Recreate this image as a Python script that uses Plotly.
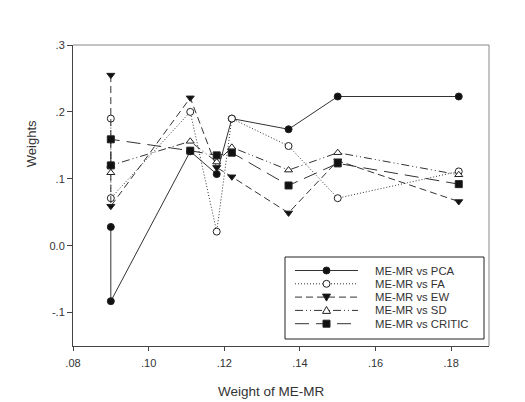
import plotly.graph_objects as go

# x positions (weight of ME-MR); the first value appears twice
x_vals = [0.09, 0.09, 0.111, 0.118, 0.122, 0.137, 0.15, 0.182]

pca = [0.028, -0.083, 0.141, 0.107, 0.190, 0.174, 0.223, 0.223]
fa = [0.190, 0.071, 0.200, 0.021, 0.190, 0.149, 0.071, 0.111]
ew = [0.255, 0.059, 0.221, 0.117, 0.103, 0.049, 0.127, 0.066]
sd = [0.109, 0.120, 0.156, 0.125, 0.147, 0.113, 0.139, 0.106]
critic = [0.120, 0.159, 0.142, 0.135, 0.139, 0.090, 0.123, 0.092]

series_names = ["ME-MR vs PCA", "ME-MR vs FA", "ME-MR vs EW", "ME-MR vs SD", "ME-MR vs CRITIC"]

y_tickvals = [-0.1, 0.0, 0.1, 0.2, 0.3]
y_ticktext = ["-.1", "0.0", ".1", ".2", ".3"]
x_tickvals = [0.08, 0.10, 0.12, 0.14, 0.16, 0.18]
x_ticktext = [".08", ".10", ".12", ".14", ".16", ".18"]

LC = "#333333"
styles = [
    dict(dash="solid", symbol="circle", fill="#111111"),
    dict(dash="1px,2px", symbol="circle", fill="white"),
    dict(dash="7px,4px", symbol="triangle-down", fill="#111111"),
    dict(dash="8px,3px,1px,3px,1px,3px", symbol="triangle-up", fill="white"),
    dict(dash="14px,7px", symbol="square", fill="#111111"),
]

fig = go.Figure()
for name, ys, st in zip(series_names, [pca, fa, ew, sd, critic], styles):
    fig.add_trace(go.Scatter(
        x=x_vals, y=ys, name=name, mode="lines+markers", showlegend=False,
        line=dict(color=LC, width=1, dash=st["dash"]),
        marker=dict(symbol=st["symbol"], size=7, color=st["fill"],
                    line=dict(color="#222222", width=1)),
    ))

font = dict(family="Liberation Sans, Arial, sans-serif", color="#333333")

# page body has an 8px margin, so the figure is sized/placed to compensate
W, H = 517, 394
ML, MT, MR, MB = 65, 37, 36, 56
PW, PH = W - ML - MR, H - MT - MB


def px(xs):  # screen px -> paper x
    return (xs - 8 - ML) / PW


def py(ys):  # screen px -> paper y
    return (H - MB - (ys - 8)) / PH


shapes = [
    dict(type="line", xref="paper", yref="paper", x0=0, x1=1, y0=1, y1=1,
         line=dict(color="#888888", width=1)),
    dict(type="line", xref="paper", yref="paper", x0=1, x1=1, y0=0, y1=1,
         line=dict(color="#888888", width=1)),
    # legend box
    dict(type="rect", xref="paper", yref="paper", x0=px(285), x1=px(484),
         y0=py(339), y1=py(257), line=dict(color="#222222", width=1),
         fillcolor="white", layer="above"),
]
annotations = []

tri_down = "M -4,3 L 4,3 L 0,-4 Z"
tri_up = "M -4,-3 L 4,-3 L 0,4 Z"
for i, (name, st) in enumerate(zip(series_names, styles)):
    yy = py(270.5 + i * 13.3)
    shapes.append(dict(type="line", xref="paper", yref="paper", x0=px(295), x1=px(358),
                       y0=yy, y1=yy, line=dict(color=LC, width=1, dash=st["dash"]),
                       layer="above"))
    mk = dict(xref="paper", yref="paper", xsizemode="pixel", ysizemode="pixel",
              xanchor=px(326.5), yanchor=yy, fillcolor=st["fill"],
              line=dict(color="#222222", width=1), layer="above")
    sym = st["symbol"]
    if sym == "circle":
        mk.update(type="circle", x0=-3.5, x1=3.5, y0=-3.5, y1=3.5)
    elif sym == "square":
        mk.update(type="rect", x0=-3.5, x1=3.5, y0=-3.5, y1=3.5)
    elif sym == "triangle-down":
        mk.update(type="path", path=tri_down)
    else:
        mk.update(type="path", path=tri_up)
    shapes.append(mk)
    annotations.append(dict(text=name, xref="paper", yref="paper", x=px(373), y=yy,
                            xanchor="left", yanchor="middle", showarrow=False,
                            font=dict(size=11.3, **font)))

annotations += [
    dict(text="Weights", xref="paper", yref="paper", x=px(31.7), y=py(143.5),
         showarrow=False, textangle=-90, font=dict(size=13, **font),
         xanchor="center", yanchor="middle"),
    dict(text="Weight of ME-MR", xref="paper", yref="paper", x=px(271.7), y=py(391.7),
         showarrow=False, font=dict(size=13.5, **font),
         xanchor="center", yanchor="middle"),
]

fig.update_layout(
    width=W, height=H,
    margin=dict(l=ML, r=MR, t=MT, b=MB, autoexpand=False),
    paper_bgcolor="white", plot_bgcolor="white",
    font=dict(size=11, **font),
    showlegend=False,
    xaxis=dict(
        range=[0.08, 0.19], tickvals=x_tickvals, ticktext=x_ticktext,
        showgrid=False, zeroline=False, showline=True, linecolor="#444444", linewidth=1,
        ticks="outside", ticklen=4, tickcolor="#444444", automargin=False,
        ticklabelstandoff=3,
        tickfont=dict(size=11, **font),
    ),
    yaxis=dict(
        range=[-0.15, 0.3], tickvals=y_tickvals, ticktext=y_ticktext,
        showgrid=False, zeroline=False, showline=True, linecolor="#444444", linewidth=1,
        ticks="outside", ticklen=5, tickcolor="#444444", automargin=False,
        tickfont=dict(size=11, **font),
    ),
    shapes=shapes,
    annotations=annotations,
)

fig.write_html("out.html")
